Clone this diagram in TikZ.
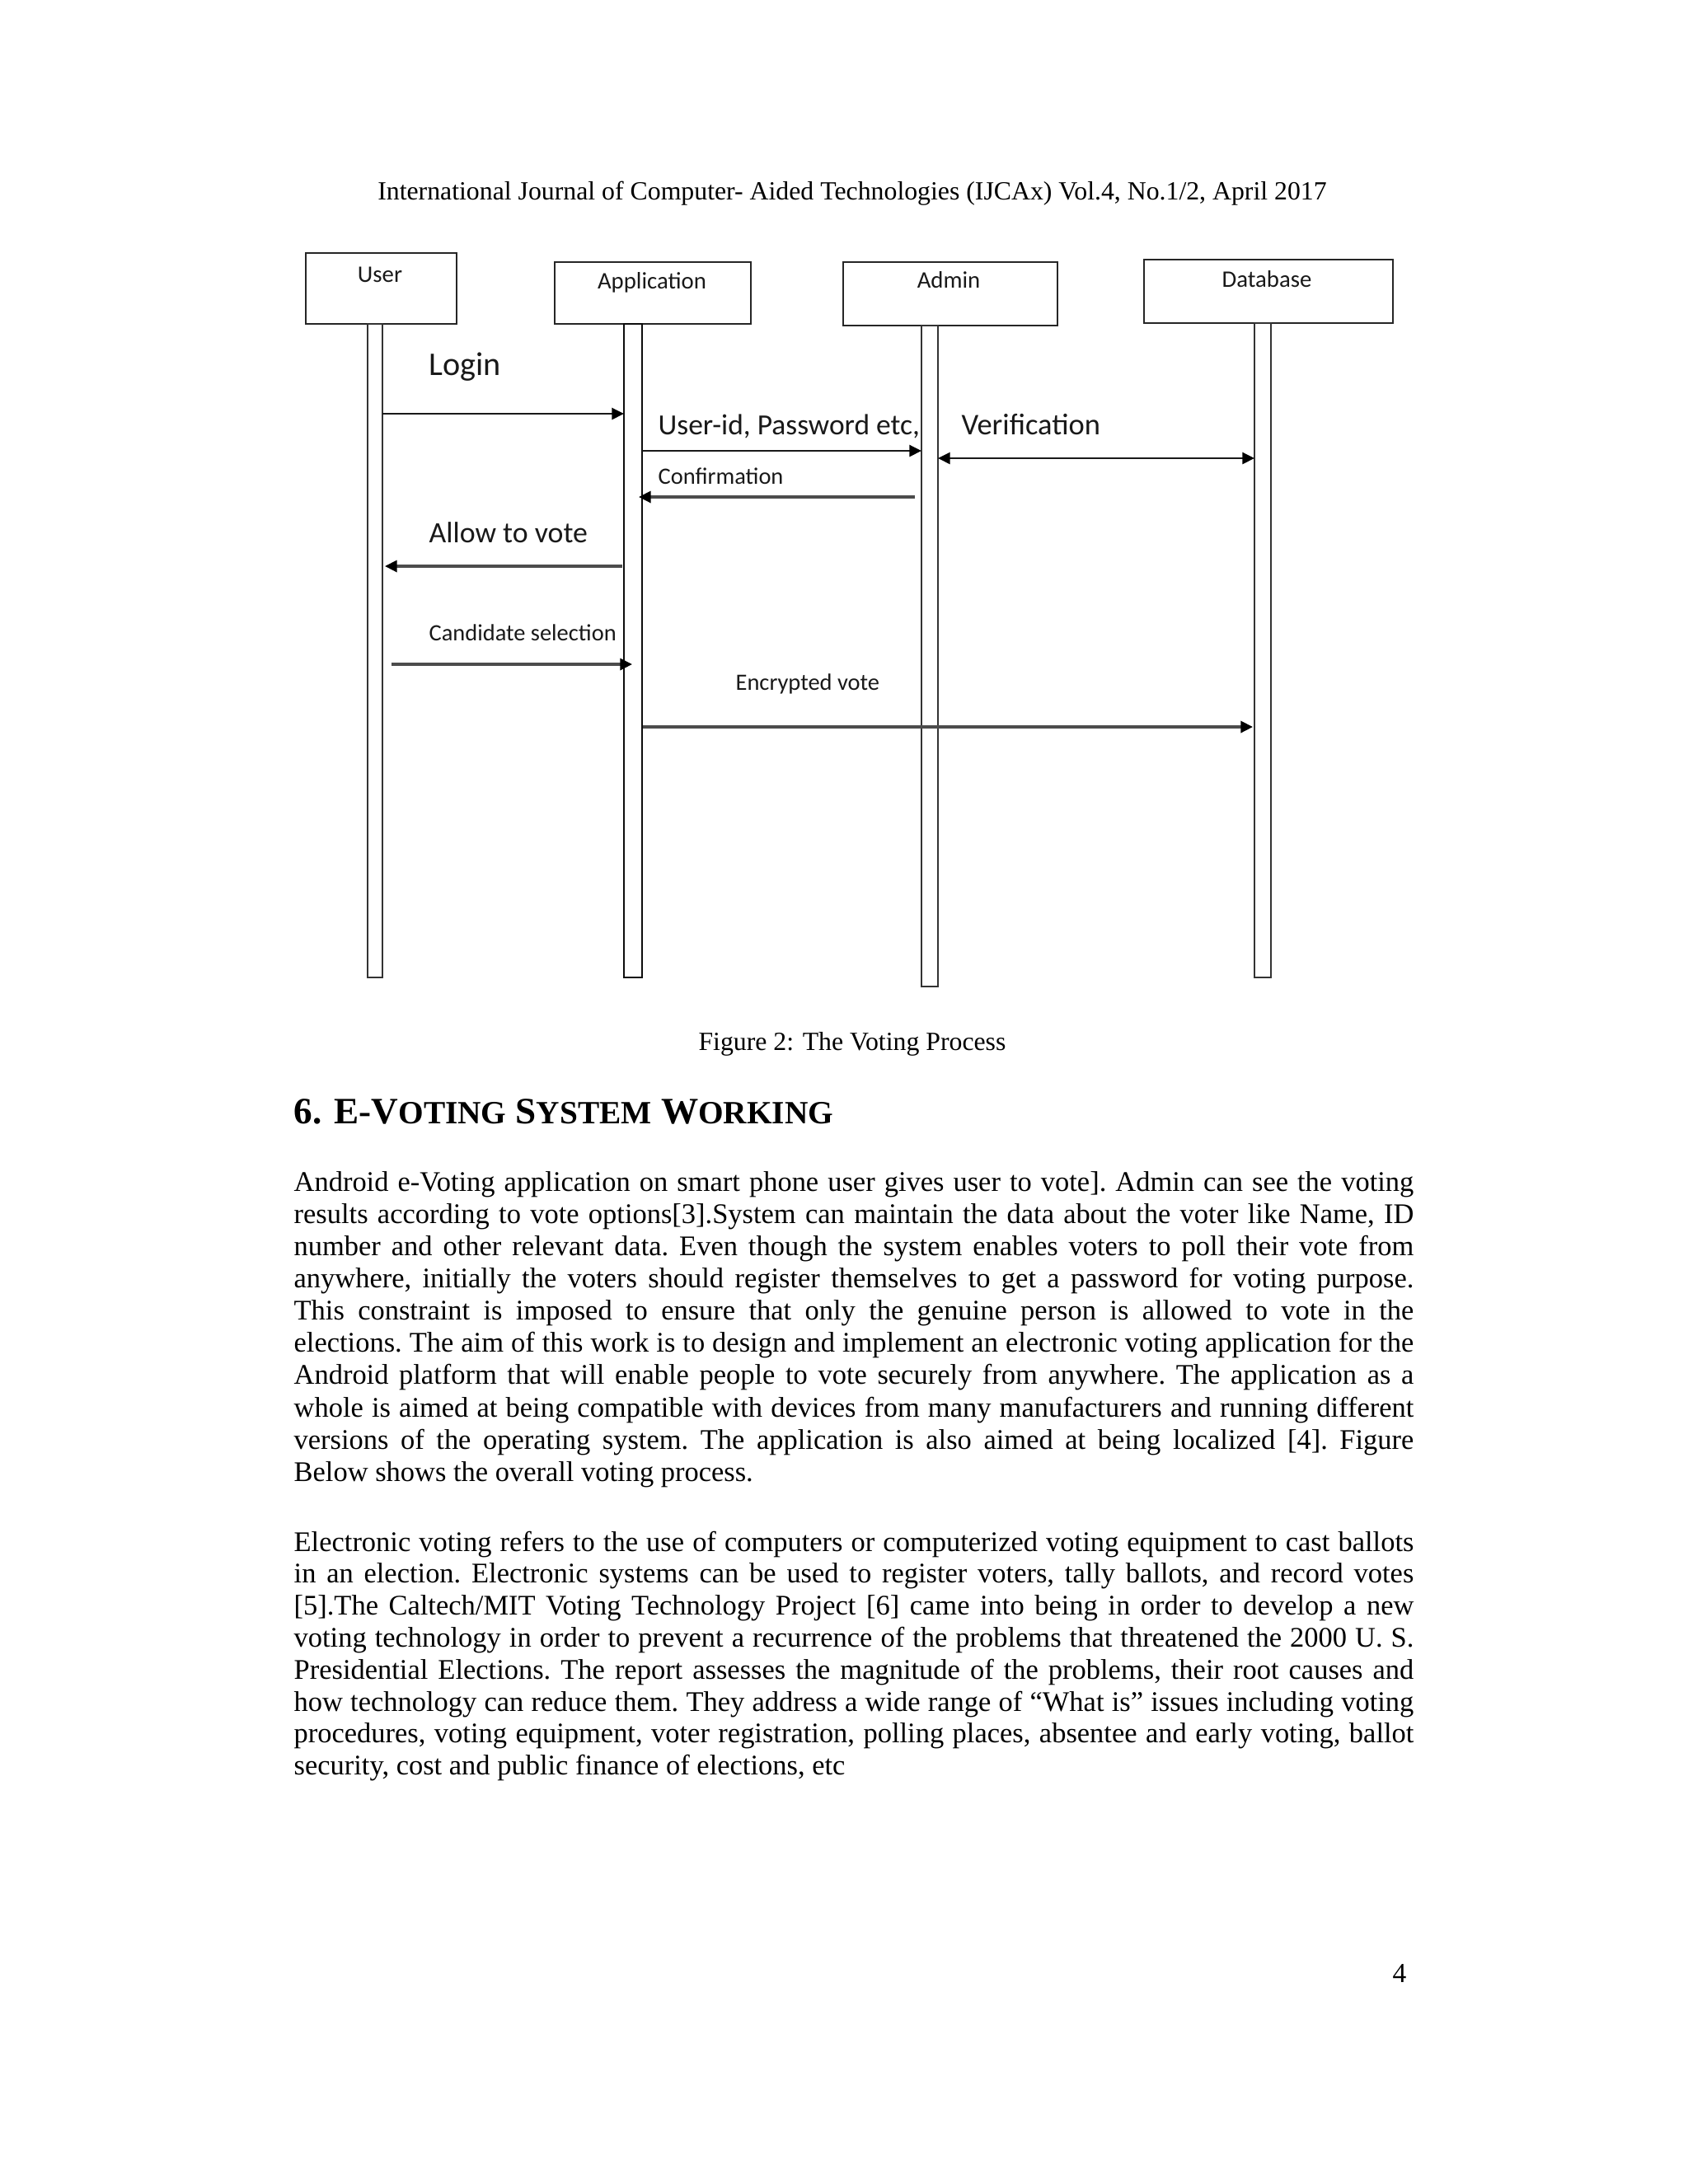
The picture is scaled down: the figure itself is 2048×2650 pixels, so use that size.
\documentclass[tikz,border=0pt]{standalone}
\usepackage{fontspec}
\setmainfont{Liberation Serif}
\newfontfamily\diafont{Carlito}
\usetikzlibrary{arrows.meta,calc}
\begin{document}
\begin{tikzpicture}[x=0.298828pt,y=-0.298828pt,
  pxbox/.style 2 args={minimum width=#1*0.298828pt, minimum height=#2*0.298828pt, inner sep=0pt, outer sep=0pt},
  actor/.style={draw=black!85, line width=0.85pt, fill=white},
  lifebar/.style={draw=black!80, line width=0.6pt, fill=white},
  tipstyle/.style={},
  msg/.style={draw=black!90, line width=0.75pt, -{Triangle[length=4.4pt,width=4.2pt,fill=black,color=black]}},
  msggray/.style={draw=black!70, line width=0.95pt, -{Triangle[length=4.4pt,width=4.2pt,fill=black,color=black]}},
  msgboth/.style={draw=black!90, line width=0.75pt, {Triangle[length=4.4pt,width=4.2pt,fill=black,color=black]}-{Triangle[length=4.4pt,width=4.2pt,fill=black,color=black]}},
  bigtxt/.style={font=\diafont\fontsize{10.7}{12}\selectfont, text=black!90, inner sep=0pt, anchor=base west},
  smalltxt/.style={font=\diafont\fontsize{8.5}{10}\selectfont, text=black!90, inner sep=0pt, anchor=base west},
  boxlabel/.style={font=\diafont\fontsize{8.6}{10}\selectfont, text=black!90, inner sep=0pt, anchor=base},
  pagetxt/.style={font=\fontsize{9.5}{11}\selectfont, inner sep=0pt},
  bodypar/.style={font=\fontsize{10.3}{11.7}\selectfont, inner sep=0pt, anchor=base west,
     text width=406pt, align=justify}
]
\fill[white] (0,0) rectangle (2048,2650);
\useasboundingbox (0,0) rectangle (2048,2650);

% header
\node[pagetxt, anchor=base] (hdr) at (1034,242) {International Journal of Computer- Aided Technologies (IJCAx) Vol.4, No.1/2, April 2017};

% actor boxes
\node[actor, pxbox={183}{86}] (ubox) at (462.5,350) {};
\node[actor, pxbox={238}{75}] (abox) at (792,355.5) {};
\node[actor, pxbox={260}{77}] (mbox) at (1153,356.5) {};
\node[actor, pxbox={302}{77}] (dbox) at (1539,353.5) {};
\node[boxlabel] (ulab) at (461,342) {User};
\node[boxlabel] (alab) at (791,350) {Application};
\node[boxlabel] (mlab) at (1151,349) {Admin};
\node[boxlabel] (dlab) at (1537,348) {Database};

% lifelines
\node[lifebar, pxbox={18}{793}] (ulife) at (455,789.5) {};
\node[lifebar, draw=black!95, pxbox={22}{793}] (alife) at (768,789.5) {};
\node[lifebar, pxbox={20}{802}] (mlife) at (1128,796) {};
\node[lifebar, pxbox={20}{794}] (dlife) at (1532,789) {};

% messages
\draw[msg] (ulife.east |- 0,502) -- (alife.west |- 0,502);
\draw[msg] (alife.east |- 0,547) -- (mlife.west |- 0,547);
\draw[msgboth] (mlife.east |- 0,556) -- (dlife.west |- 0,556);
\draw[msggray] ($(mlife.west |- 0,603)+(-8,0)$) -- ($(alife.east |- 0,603)+(-4,0)$);
\draw[msggray] ($(alife.west |- 0,687)+(-2,0)$) -- ($(ulife.east |- 0,687)+(3,0)$);
\draw[msggray] ($(ulife.east |- 0,806)+(11,0)$) -- ($(alife.west |- 0,806)+(10,0)$);
\draw[msggray] ($(alife.east |- 0,882)+(1,0)$) -- ($(dlife.west |- 0,882)+(-2,0)$);

% message labels
\node[bigtxt, font=\diafont\fontsize{12}{14}\selectfont] (tlogin) at (520,455) {Login};
\node[bigtxt, font=\diafont\fontsize{10.6}{12}\selectfont] (tuid) at (798,527) {User-id, Password etc,};
\node[bigtxt, font=\diafont\fontsize{10.9}{12}\selectfont] (tver) at (1166,527) {Verification};
\node[smalltxt] (tconf) at (798,587) {Confirmation};
\node[bigtxt] (tallow) at (520,658) {Allow to vote};
\node[smalltxt] (tcand) at (520,777) {Candidate selection};
\node[smalltxt] (tenc) at (892,837) {Encrypted vote};

% caption
\node[pagetxt, anchor=base] (cap) at (1034,1274) {Figure 2: The Voting Process};

% heading
\node[inner sep=0pt, anchor=base west, font=\bfseries] (head) at (356,1363)
  {\fontsize{13.5}{16}\selectfont 6. E-V{\fontsize{11.75}{13}\selectfont OTING} S{\fontsize{11.75}{13}\selectfont YSTEM} W{\fontsize{11.75}{13}\selectfont ORKING}};

% paragraph 1
\node[bodypar] (par1) at (356,1445) {\frenchspacing\hyphenpenalty=10000 \exhyphenpenalty=10000 \pretolerance=-1 \tolerance=9999
\spaceskip=0.25em plus 0.5em minus 0.15em
Android e-Voting application on smart phone user gives user to vote]. Admin can see the voting\linebreak
results according to vote options[3].System can maintain the data about the voter like Name, ID\linebreak
number and other relevant data. Even though the system enables voters to poll their vote from\linebreak
anywhere, initially the voters should register themselves to get a password for voting purpose.\linebreak
This constraint is imposed to ensure that only the genuine person is allowed to vote in the\linebreak
elections. The aim of this work is to design and implement an electronic voting application for the\linebreak
Android platform that will enable people to vote securely from anywhere. The application as a\linebreak
whole is aimed at being compatible with devices from many manufacturers and running different\linebreak
versions of the operating system. The application is also aimed at being localized [4]. Figure\linebreak
Below shows the overall voting process.};

% paragraph 2
\node[bodypar, font=\fontsize{10.3}{11.6}\selectfont] (par2) at (356,1882) {\frenchspacing\hyphenpenalty=10000 \exhyphenpenalty=10000 \pretolerance=-1 \tolerance=9999
\spaceskip=0.25em plus 0.5em minus 0.15em
Electronic voting refers to the use of computers or computerized voting equipment to cast ballots\linebreak
in an election. Electronic systems can be used to register voters, tally ballots, and record votes\linebreak
{[5]}.The Caltech/MIT Voting Technology Project [6] came into being in order to develop a new\linebreak
voting technology in order to prevent a recurrence of the problems that threatened the 2000 U. S.\linebreak
Presidential Elections. The report assesses the magnitude of the problems, their root causes and\linebreak
how technology can reduce them. They address a wide range of “What is” issues including voting\linebreak
procedures, voting equipment, voter registration, polling places, absentee and early voting, ballot\linebreak
security, cost and public finance of elections, etc};

% page number
\node[pagetxt, font=\fontsize{10}{12}\selectfont, anchor=base east] (pgno) at (1707,2405) {4};
\end{tikzpicture}
\end{document}
